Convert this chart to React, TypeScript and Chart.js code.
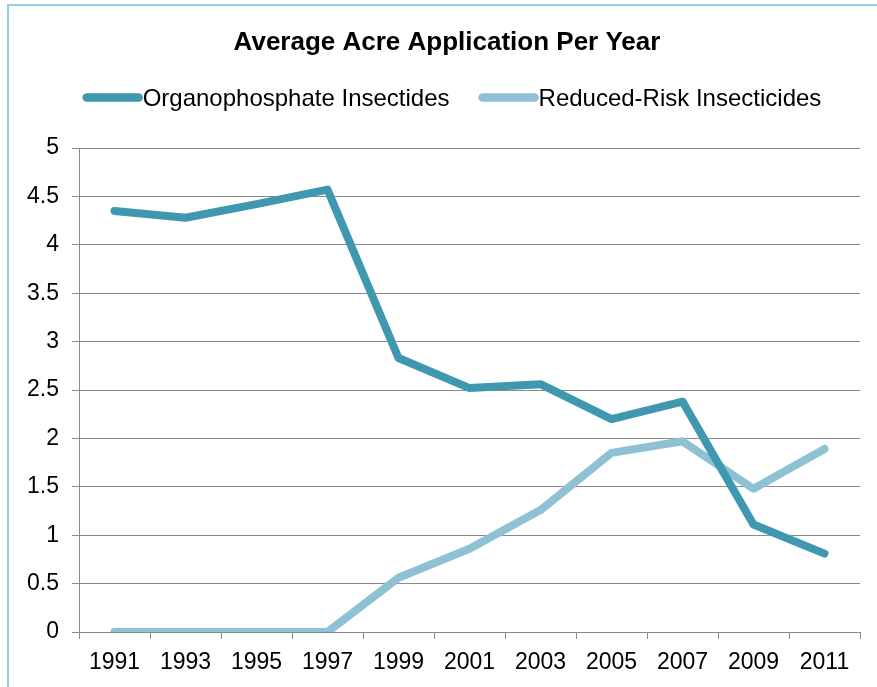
import React, { useEffect, useRef } from "react";
import { Chart, registerables } from "chart.js";

Chart.register(...registerables);

const years = ["1991", "1993", "1995", "1997", "1999", "2001", "2003", "2005", "2007", "2009", "2011"];
const organophosphate = [4.35, 4.28, 4.42, 4.57, 2.83, 2.52, 2.56, 2.2, 2.38, 1.11, 0.81];
const reducedRisk = [0, 0, 0, 0, 0.56, 0.86, 1.26, 1.85, 1.97, 1.48, 1.89];
const seriesNames = ["Organophosphate Insectides", "Reduced-Risk Insecticides"];
const titleText = "Average Acre Application Per Year";

const DARK = "#3f97b0";
const LIGHT = "#8ec1d4";
const GRID = "#8a8a8a";
const FONT = '"Liberation Sans", Arial, sans-serif';

const headerPlugin = {
  id: "header",
  afterDraw(chart: any) {
    const ctx = chart.ctx as CanvasRenderingContext2D;
    ctx.save();
    // title
    ctx.fillStyle = "#000";
    ctx.font = `bold 26px ${FONT}`;
    ctx.textAlign = "center";
    ctx.textBaseline = "alphabetic";
    ctx.fillText(titleText, 447, 50);
    // legend
    ctx.font = `24px ${FONT}`;
    ctx.textAlign = "left";
    const colors = [DARK, LIGHT];
    const swatch = 60;
    const gap = 29;
    const widths = seriesNames.map((n) => swatch + ctx.measureText(n).width);
    const total = widths.reduce((a, b) => a + b, 0) + gap;
    let x = 452 - total / 2;
    seriesNames.forEach((name, i) => {
      ctx.strokeStyle = colors[i];
      ctx.lineWidth = 8.5;
      ctx.lineCap = "round";
      ctx.beginPath();
      ctx.moveTo(x + 4, 97.5);
      ctx.lineTo(x + swatch - 4, 97.5);
      ctx.stroke();
      ctx.fillStyle = "#000";
      ctx.fillText(name, x + swatch, 105.5);
      x += widths[i] + gap;
    });
    ctx.restore();
  },
};

export default function App() {
  const ref = useRef<HTMLCanvasElement>(null);
  useEffect(() => {
    if (!ref.current) return;
    const chart = new Chart(ref.current, {
      type: "line",
      data: {
        labels: years,
        datasets: [
          {
            label: seriesNames[0],
            data: organophosphate,
            borderColor: DARK,
            backgroundColor: DARK,
            borderWidth: 8,
            pointRadius: 0,
            borderCapStyle: "round",
            borderJoinStyle: "round",
            tension: 0,
          },
          {
            label: seriesNames[1],
            data: reducedRisk,
            borderColor: LIGHT,
            backgroundColor: LIGHT,
            borderWidth: 8,
            pointRadius: 0,
            borderCapStyle: "round",
            borderJoinStyle: "round",
            tension: 0,
          },
        ],
      },
      options: {
        responsive: false,
        animation: false,
        devicePixelRatio: 1,
        layout: { padding: { left: 0, right: 17, top: 148, bottom: 0 } },
        plugins: {
          legend: { display: false },
          title: { display: false },
          tooltip: { enabled: false },
        },
        scales: {
          x: {
            type: "category",
            offset: true,
            grid: {
              offset: true,
              drawOnChartArea: false,
              drawTicks: true,
              tickLength: 7,
              color: GRID,
              lineWidth: 1,
            },
            border: { display: true, color: GRID, width: 1 },
            ticks: {
              color: "#000",
              font: { family: FONT, size: 23 },
              padding: 10,
              maxRotation: 0,
              autoSkip: false,
            },
            afterFit(scale: any) {
              scale.height = 55;
            },
          },
          y: {
            min: 0,
            max: 5,
            grid: {
              color: GRID,
              lineWidth: 1,
              drawTicks: true,
              tickLength: 7,
            },
            border: { display: true, color: GRID, width: 1 },
            ticks: {
              stepSize: 0.5,
              color: "#000",
              font: { family: FONT, size: 23 },
              padding: 13,
              callback: (v: any) => String(Math.round(Number(v) * 10) / 10),
            },
            afterFit(scale: any) {
              scale.width = 79;
            },
          },
        },
      },
      plugins: [headerPlugin],
    });
    return () => chart.destroy();
  }, []);

  return (
    <div style={{ position: "fixed", left: 0, top: 0, width: 877, height: 687, background: "#fff" }}>
      <div
        style={{
          position: "absolute",
          left: 7,
          top: 4,
          width: 870,
          height: 683,
          borderLeft: "2px solid #93cfe2",
          borderTop: "2px solid #93cfe2",
          boxSizing: "border-box",
        }}
      />
      <canvas ref={ref} width={877} height={687} style={{ position: "absolute", left: 0, top: 0 }} />
    </div>
  );
}
